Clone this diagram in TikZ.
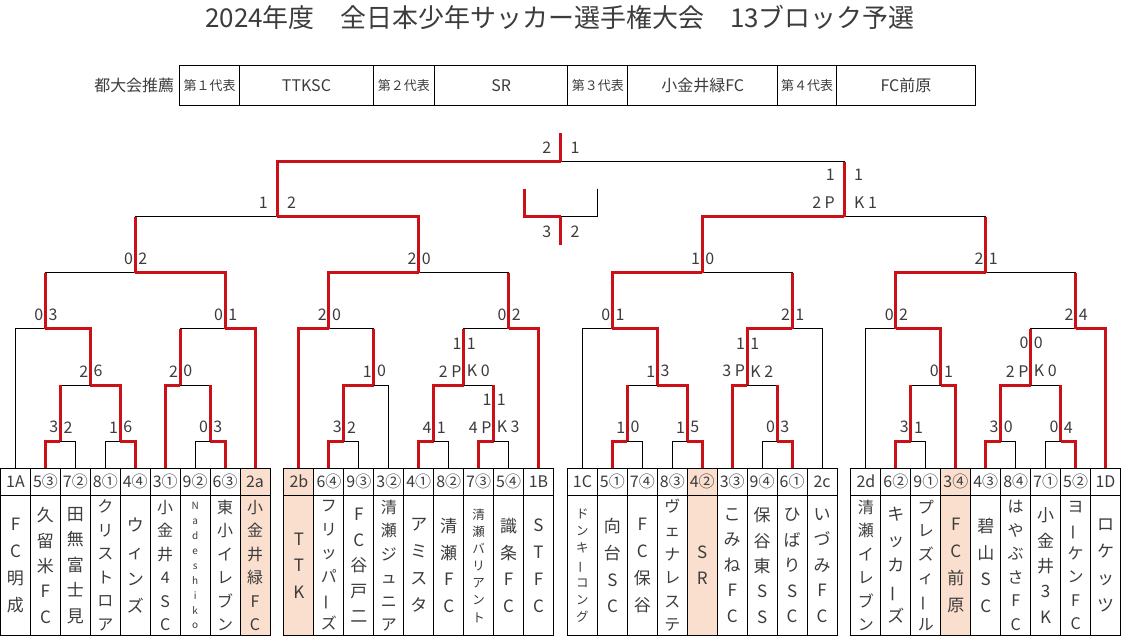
\documentclass[tikz,border=0pt]{standalone}
\usepackage{fontspec}
\usepackage{graphicx}
\setmainfont{Noto Sans CJK JP}
\definecolor{brkred}{RGB}{204,16,24}
\definecolor{peach}{RGB}{250,222,206}
\definecolor{ink}{RGB}{60,60,60}

% long vowel mark set upright in a column
\newcommand\chouon{\rotatebox[origin=c]{90}{ー}}

% one match: name, x, y, winner, loser, loser-vertical style, left score, right score
\newcommand\bout[8]{%
  \coordinate (#1) at (#2,#3);
  \draw[lose] (#5) |- (#1);
  \draw[#6] (#5) -- (#5 |- #1);
  \draw[win] (#4) |- (#1);
  \node[sc,anchor=south east] (#1l) at ([shift={({0-\gap},{0-(\lift)})}]#1) {#7};
  \node[sc,anchor=south west] (#1r) at ([shift={({\gap+1},{0-(\lift)})}]#1) {#8};
}
\def\gap{2}
\def\lift{8}

\begin{document}
\begin{tikzpicture}[x=1pt,y=-1pt,line join=miter,
    win/.style={draw=brkred,line width=3pt,line cap=square},
    lose/.style={draw=black,line width=1pt},
    sc/.style={inner sep=0pt,font=\fontsize{16}{16}\selectfont,text=ink},
    numcell/.style={draw,line width=1pt,inner sep=0pt,minimum width=30pt,minimum height=27pt,
      font=\fontsize{16}{16}\selectfont,text=ink},
    namecell/.style={draw,line width=1pt,inner sep=0pt,minimum width=30pt,minimum height=141pt,
      align=center,text=ink},
    n2/.style={font=\fontsize{17}{26}\selectfont},
    n3/.style={font=\fontsize{17}{26.5}\selectfont},
    n4/.style={font=\fontsize{17}{27}\selectfont},
    n5/.style={font=\fontsize{17}{25.5}\selectfont},
    n6/.style={font=\fontsize{16}{23.6}\selectfont},
    n7/.style={font=\fontsize{12.5}{17.2}\selectfont},
    n9/.style={font=\fontsize{10}{15}\selectfont},
    hl/.style={fill=peach},
    pl/.style={},
    repcell/.style={draw,line width=1pt,inner sep=0pt,minimum height=40pt,text=ink},
    rs/.style={font=\fontsize{13}{13}\selectfont},
    rb/.style={font=\fontsize{16}{16}\selectfont}]

  \fill[white] (0,0) rectangle (1122,642);

  \node[text=ink,font=\fontsize{26}{26}\selectfont] (title) at (559,17)
    {2024年度　全日本少年サッカー選手権大会　13ブロック予選};

  % representatives
  \node[anchor=east,text=ink,font=\fontsize{16}{16}\selectfont] (reclabel) at (176,86) {都大会推薦};
  \foreach \a/\b/\txt/\st [count=\i] in {178/238/第１代表/rs, 238/372/TTKSC/rb,
      372/433/第２代表/rs, 433/567/SR/rb, 567/627/第３代表/rs, 627/777/小金井緑FC/rb,
      777/836/第４代表/rs, 836/975/FC前原/rb}{
    \pgfmathsetmacro\w{\b-\a}
    \pgfmathsetmacro\cx{(\a+\b)/2}
    \node[repcell,\st,minimum width=\w pt] (rep\i) at (\cx,86) {\txt};
  }

  % teams
  \foreach \num/\nm/\st/\hl [count=\k from 0] in {
      1A/{F\\C\\明\\成}/n4/pl,
      5③/{久\\留\\米\\F\\C}/n5/pl,
      7②/{田\\無\\富\\士\\見}/n5/pl,
      8①/{ク\\リ\\ス\\ト\\ロ\\ア}/n6/pl,
      4④/{ウ\\ィ\\ン\\ズ}/n4/pl,
      3①/{小\\金\\井\\4\\S\\C}/n6/pl,
      9②/{N\\a\\d\\e\\s\\h\\i\\k\\o}/n9/pl,
      6③/{東\\小\\イ\\レ\\ブ\\ン}/n6/pl,
      2a/{小\\金\\井\\緑\\F\\C}/n6/hl,
      2b/{T\\T\\K}/n3/hl,
      6④/{フ\\リ\\ッ\\パ\\\chouon\\ズ}/n6/pl,
      9③/{F\\C\\谷\\戸\\二}/n5/pl,
      3②/{清\\瀬\\ジ\\ュ\\ニ\\ア}/n6/pl,
      4①/{ア\\ミ\\ス\\タ}/n4/pl,
      8②/{清\\瀬\\F\\C}/n4/pl,
      7③/{清\\瀬\\バ\\リ\\ア\\ン\\ト}/n7/pl,
      5④/{識\\条\\F\\C}/n4/pl,
      1B/{S\\T\\F\\C}/n4/pl,
      1C/{ド\\ン\\キ\\\chouon\\コ\\ン\\グ}/n7/pl,
      5①/{向\\台\\S\\C}/n4/pl,
      7④/{F\\C\\保\\谷}/n4/pl,
      8③/{ヴ\\ェ\\ナ\\レ\\ス\\テ}/n6/pl,
      4②/{S\\R}/n2/hl,
      3③/{こ\\み\\ね\\F\\C}/n5/pl,
      9④/{保\\谷\\東\\S\\S}/n5/pl,
      6①/{ひ\\ば\\り\\S\\C}/n5/pl,
      2c/{い\\づ\\み\\F\\C}/n5/pl,
      2d/{清\\瀬\\イ\\レ\\ブ\\ン}/n6/pl,
      6②/{キ\\ッ\\カ\\\chouon\\ズ}/n5/pl,
      9①/{プ\\レ\\ズ\\ィ\\\chouon\\ル}/n6/pl,
      3④/{F\\C\\前\\原}/n4/hl,
      4③/{碧\\山\\S\\C}/n4/pl,
      8④/{は\\や\\ぶ\\さ\\F\\C}/n6/pl,
      7①/{小\\金\\井\\3\\K}/n5/pl,
      5②/{ヨ\\\chouon\\ケ\\ン\\F\\C}/n6/pl,
      1D/{ロ\\ケ\\ッ\\ツ}/n4/pl}{
    \pgfmathsetmacro\cx{-1.5+284*floor(\k/9)+15+30*mod(\k,9)}
    \node[numcell,\hl] (n\k) at (\cx,482.5) {\num};
    \node[namecell,\st,\hl] (m\k) at (\cx,566.5) {\nm};
  }

  % block 1
  \bout{g1a}{58.5}{442}{n1.north}{n2.north}{lose}{3}{2}
  \bout{g1b}{118.5}{442}{n4.north}{n3.north}{lose}{1}{6}
  \bout{g1c}{88.5}{386}{g1b}{g1a}{win}{2}{6}
  \bout{g1d}{43.5}{329.5}{g1c}{n0.north}{lose}{0}{3}
  \bout{g1e}{208.5}{442}{n7.north}{n6.north}{lose}{0}{3}
  \bout{g1f}{178.5}{386}{n5.north}{g1e}{win}{2}{0}
  \bout{g1g}{223.5}{329.5}{n8.north}{g1f}{win}{0}{1}
  \bout{g1q}{133.5}{273}{g1g}{g1d}{win}{0}{2}

  % block 2
  \bout{g2a}{342.5}{442}{n10.north}{n11.north}{lose}{3}{2}
  \bout{g2b}{372.5}{386}{g2a}{n12.north}{lose}{1}{0}
  \bout{g2c}{327.5}{329.5}{n9.north}{g2b}{win}{2}{0}
  \bout{g2d}{432.5}{442}{n13.north}{n14.north}{lose}{4}{1}
  \bout{g2e}{492.5}{442}{n15.north}{n16.north}{lose}{4 P}{K 3}
  \bout{g2f}{462.5}{386}{g2d}{g2e}{win}{2 P}{K 0}
  \bout{g2g}{507.5}{329.5}{n17.north}{g2f}{win}{0}{2}
  \bout{g2q}{417.5}{273}{g2c}{g2g}{win}{2}{0}
  \node[sc,anchor=south east] (g2eu1) at ([shift={(-2,-36)}]g2e) {1};
  \node[sc,anchor=south west] (g2eu2) at ([shift={(3,-36)}]g2e) {1};
  \node[sc,anchor=south east] (g2fu1) at ([shift={(-2,-36)}]g2f) {1};
  \node[sc,anchor=south west] (g2fu2) at ([shift={(3,-36)}]g2f) {1};

  % block 3
  \bout{g3a}{626.5}{442}{n19.north}{n20.north}{lose}{1}{0}
  \bout{g3b}{686.5}{442}{n22.north}{n21.north}{lose}{1}{5}
  \bout{g3c}{656.5}{386}{g3b}{g3a}{win}{1}{3}
  \bout{g3d}{611.5}{329.5}{g3c}{n18.north}{lose}{0}{1}
  \bout{g3e}{776.5}{442}{n25.north}{n24.north}{lose}{0}{3}
  \bout{g3f}{746.5}{386}{n23.north}{g3e}{win}{3 P}{K 2}
  \bout{g3g}{791.5}{329.5}{g3f}{n26.north}{lose}{2}{1}
  \bout{g3q}{701.5}{273}{g3d}{g3g}{win}{1}{0}
  \node[sc,anchor=south east] (g3fu1) at ([shift={(-2,-36)}]g3f) {1};
  \node[sc,anchor=south west] (g3fu2) at ([shift={(3,-36)}]g3f) {1};

  % block 4
  \bout{g4a}{910.5}{442}{n28.north}{n29.north}{lose}{3}{1}
  \bout{g4b}{940.5}{386}{n30.north}{g4a}{win}{0}{1}
  \bout{g4c}{895.5}{329.5}{g4b}{n27.north}{lose}{0}{2}
  \bout{g4d}{1000.5}{442}{n31.north}{n32.north}{lose}{3}{0}
  \bout{g4e}{1060.5}{442}{n34.north}{n33.north}{lose}{0}{4}
  \bout{g4f}{1030.5}{386}{g4d}{g4e}{win}{2 P}{K 0}
  \bout{g4g}{1075.5}{329.5}{n35.north}{g4f}{win}{2}{4}
  \bout{g4q}{985.5}{273}{g4c}{g4g}{win}{2}{1}
  \node[sc,anchor=south east] (g4fu1) at ([shift={(-2,-36)}]g4f) {0};
  \node[sc,anchor=south west] (g4fu2) at ([shift={(3,-36)}]g4f) {0};

  % semis, final, third place
  \def\gap{9}
  \bout{sfl}{275.5}{217}{g2q}{g1q}{win}{1}{2}
  \bout{sfr}{843.5}{217}{g3q}{g4q}{win}{2 P}{K 1}
  \node[sc,anchor=south east] (sfru1) at ([shift={(-9,-36)}]sfr) {1};
  \node[sc,anchor=south west] (sfru2) at ([shift={(10,-36)}]sfr) {1};
  \bout{fin}{559.5}{162}{sfl}{sfr}{win}{2}{1}
  \coordinate (champ) at (559.5,133);
  \draw[win] (fin) -- (champ);

  \coordinate (tl) at (523,189);
  \coordinate (tr) at (597,189);
  \def\lift{-21}
  \bout{third}{559.5}{217}{tl}{tr}{lose}{3}{2}
  \coordinate (thirdend) at (559.5,245);
  \draw[win] (third) -- (thirdend);
\end{tikzpicture}
\end{document}
